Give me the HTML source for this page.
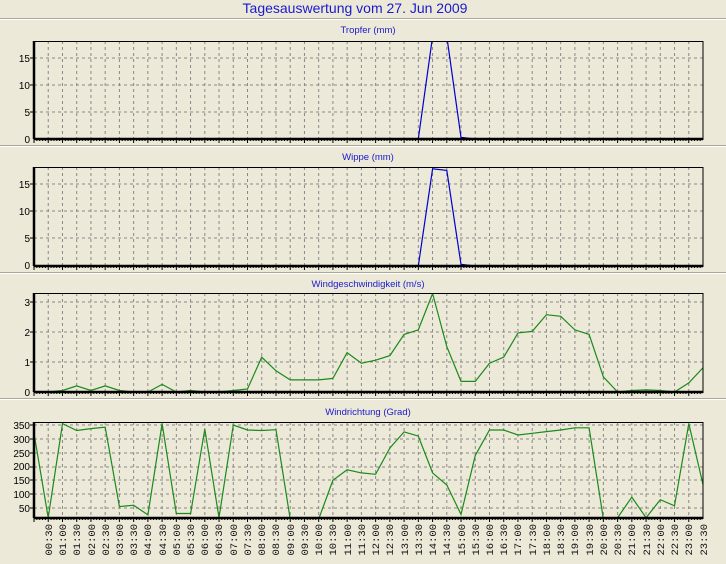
<!DOCTYPE html>
<html><head><meta charset="utf-8"><style>
html,body{margin:0;padding:0;background:#ECE9D8;}
svg{display:block;}
text{font-family:"Liberation Sans",sans-serif;}
.t{fill:#1a1acc;font-size:9.5px;text-anchor:middle;}
.y{font-size:10px;text-anchor:end;fill:#000;}
.x{font-family:"Liberation Mono",monospace;font-size:10.5px;text-anchor:end;fill:#111;}
</style></head><body>
<svg id="s" width="726" height="564" viewBox="0 0 726 564" xmlns="http://www.w3.org/2000/svg">
<rect width="726" height="564" fill="#ECE9D8"/>
<text x="355" y="13" style="font-size:14px;fill:#1a1acc;text-anchor:middle">Tagesauswertung vom 27. Jun 2009</text>
<g id="sep"></g>
<text class="t" x="368" y="33">Tropfer (mm)</text>
<text class="t" x="368" y="160">Wippe (mm)</text>
<text class="t" x="368" y="287">Windgeschwindigkeit (m/s)</text>
<text class="t" x="368" y="415">Windrichtung (Grad)</text>
<g id="g"></g>
<text class="y" x="30" y="62">15</text><text class="y" x="30" y="89">10</text><text class="y" x="30" y="116">5</text><text class="y" x="30" y="143">0</text>
<text class="y" x="30" y="188">15</text><text class="y" x="30" y="215">10</text><text class="y" x="30" y="242">5</text><text class="y" x="30" y="269">0</text>
<text class="y" x="30" y="306">3</text><text class="y" x="30" y="336">2</text><text class="y" x="30" y="366">1</text><text class="y" x="30" y="396">0</text>
<text class="y" x="30" y="429">350</text><text class="y" x="30" y="443">300</text><text class="y" x="30" y="457">250</text><text class="y" x="30" y="470">200</text><text class="y" x="30" y="484">150</text><text class="y" x="30" y="498">100</text><text class="y" x="30" y="512">50</text>
<g id="xl">
<text class="x" transform="translate(52,524) rotate(-90)">00:30</text>
<text class="x" transform="translate(66,524) rotate(-90)">01:00</text>
<text class="x" transform="translate(80,524) rotate(-90)">01:30</text>
<text class="x" transform="translate(95,524) rotate(-90)">02:00</text>
<text class="x" transform="translate(109,524) rotate(-90)">02:30</text>
<text class="x" transform="translate(123,524) rotate(-90)">03:00</text>
<text class="x" transform="translate(137,524) rotate(-90)">03:30</text>
<text class="x" transform="translate(151,524) rotate(-90)">04:00</text>
<text class="x" transform="translate(166,524) rotate(-90)">04:30</text>
<text class="x" transform="translate(180,524) rotate(-90)">05:00</text>
<text class="x" transform="translate(194,524) rotate(-90)">05:30</text>
<text class="x" transform="translate(208,524) rotate(-90)">06:00</text>
<text class="x" transform="translate(222,524) rotate(-90)">06:30</text>
<text class="x" transform="translate(237,524) rotate(-90)">07:00</text>
<text class="x" transform="translate(251,524) rotate(-90)">07:30</text>
<text class="x" transform="translate(265,524) rotate(-90)">08:00</text>
<text class="x" transform="translate(279,524) rotate(-90)">08:30</text>
<text class="x" transform="translate(294,524) rotate(-90)">09:00</text>
<text class="x" transform="translate(308,524) rotate(-90)">09:30</text>
<text class="x" transform="translate(322,524) rotate(-90)">10:00</text>
<text class="x" transform="translate(336,524) rotate(-90)">10:30</text>
<text class="x" transform="translate(351,524) rotate(-90)">11:00</text>
<text class="x" transform="translate(365,524) rotate(-90)">11:30</text>
<text class="x" transform="translate(379,524) rotate(-90)">12:00</text>
<text class="x" transform="translate(393,524) rotate(-90)">12:30</text>
<text class="x" transform="translate(408,524) rotate(-90)">13:00</text>
<text class="x" transform="translate(422,524) rotate(-90)">13:30</text>
<text class="x" transform="translate(436,524) rotate(-90)">14:00</text>
<text class="x" transform="translate(450,524) rotate(-90)">14:30</text>
<text class="x" transform="translate(465,524) rotate(-90)">15:00</text>
<text class="x" transform="translate(479,524) rotate(-90)">15:30</text>
<text class="x" transform="translate(493,524) rotate(-90)">16:00</text>
<text class="x" transform="translate(507,524) rotate(-90)">16:30</text>
<text class="x" transform="translate(521,524) rotate(-90)">17:00</text>
<text class="x" transform="translate(536,524) rotate(-90)">17:30</text>
<text class="x" transform="translate(550,524) rotate(-90)">18:00</text>
<text class="x" transform="translate(564,524) rotate(-90)">18:30</text>
<text class="x" transform="translate(578,524) rotate(-90)">19:00</text>
<text class="x" transform="translate(593,524) rotate(-90)">19:30</text>
<text class="x" transform="translate(607,524) rotate(-90)">20:00</text>
<text class="x" transform="translate(621,524) rotate(-90)">20:30</text>
<text class="x" transform="translate(635,524) rotate(-90)">21:00</text>
<text class="x" transform="translate(650,524) rotate(-90)">21:30</text>
<text class="x" transform="translate(664,524) rotate(-90)">22:00</text>
<text class="x" transform="translate(678,524) rotate(-90)">22:30</text>
<text class="x" transform="translate(692,524) rotate(-90)">23:00</text>
<text class="x" transform="translate(707,524) rotate(-90)">23:30</text>
</g>
</svg>
<script>
var NS="http://www.w3.org/2000/svg",g=document.getElementById("g"),sep=document.getElementById("sep");
function el(p,n,a){var e=document.createElementNS(NS,n);for(var k in a)e.setAttribute(k,a[k]);p.appendChild(e);return e;}
[18,145,272,398].forEach(function(y){el(sep,"line",{x1:0,x2:726,y1:y+.5,y2:y+.5,stroke:"#ACA899"});el(sep,"line",{x1:0,x2:726,y1:y+1.5,y2:y+1.5,stroke:"#fff"});});
var L=34,R=703,dx=(R-L)/47;
function X(i){return L+i*dx;}
function panel(top,bot,hy,data,f,col){
  var c=el(g,"g",{});
  el(c,"defs",{}).innerHTML='<clipPath id="c'+top+'"><rect x="'+L+'" y="'+top+'" width="'+(R-L)+'" height="'+(bot-top)+'"/></clipPath>';
  for(var i=1;i<47;i++)el(c,"line",{x1:X(i),x2:X(i),y1:top,y2:bot,stroke:"#888","stroke-width":1,"stroke-dasharray":"3,3"});
  hy.forEach(function(y){el(c,"line",{x1:L,x2:R,y1:y,y2:y,stroke:"#888","stroke-dasharray":"3,3"});el(c,"line",{x1:L-4,x2:L,y1:y,y2:y,stroke:"#000"});});
  for(var x=L;x<=R;x+=dx/5)el(c,"line",{x1:x,x2:x,y1:bot,y2:bot+(Math.abs((x-L)/dx-Math.round((x-L)/dx))<.01?4:2),stroke:"#000"});
  var pts=data.map(function(v,i){return X(i).toFixed(1)+","+f(v).toFixed(1);}).join(" ");
  el(c,"polyline",{points:pts,fill:"none",stroke:col,"stroke-width":1.2,"clip-path":"url(#c"+top+")"});
  el(c,"rect",{x:L,y:top+.5,width:R-L,height:bot-top,fill:"none",stroke:"#000","stroke-width":1});
  el(c,"line",{x1:L,x2:R,y1:bot,y2:bot,stroke:"#000","stroke-width":2.5});
  el(c,"line",{x1:L,x2:L,y1:top,y2:bot,stroke:"#000","stroke-width":2.5});
}
var z=[];for(var i=0;i<48;i++)z.push(0);
var t1=z.slice();t1[28]=19;t1[29]=19;t1[30]=0.3;
var t2=z.slice();t2[28]=18;t2[29]=17.7;t2[30]=0.3;
panel(41,139,[58,85,112],t1,function(v){return 139-v*5.4;},"#0000cc");
panel(167,266,[184,211,238],t2,function(v){return 266-v*5.4;},"#0000cc");
var w=[0,0,0.05,0.2,0.05,0.2,0.05,0,0,0.25,0,0.05,0,0,0.05,0.1,1.15,0.7,0.4,0.4,0.4,0.45,1.3,0.95,1.05,1.2,1.9,2.05,3.25,1.5,0.35,0.35,0.95,1.15,1.95,2.0,2.55,2.5,2.05,1.9,0.5,0,0.05,0.07,0.05,0,0.3,0.8];
panel(293,392,[302,332,362],w,function(v){return 392-v*30.3;},"#1a8a1a");
var d=[320,15,355,330,337,342,55,60,25,355,30,30,335,15,350,332,330,333,10,10,10,150,188,177,172,267,325,310,177,133,27,240,332,332,314,320,326,332,340,340,10,15,89,15,80,58,355,135];
panel(422,518,[425,439,453,467,480,494,508],d,function(v){return 425+(350-v)*0.2767;},"#1a8a1a");
</script>
</body></html>
